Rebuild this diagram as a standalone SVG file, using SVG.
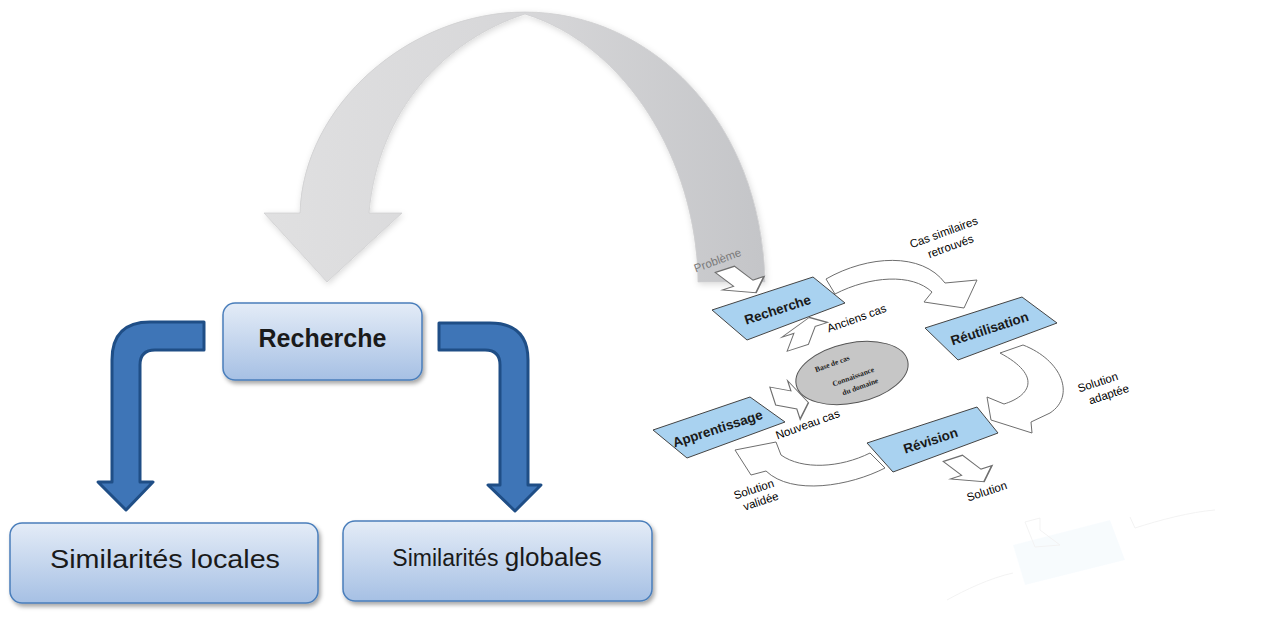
<svg xmlns="http://www.w3.org/2000/svg" width="1274" height="641" viewBox="0 0 1274 641">
<defs>
<linearGradient id="boxg" x1="0" y1="0" x2="0" y2="1">
<stop offset="0" stop-color="#e4ecf7"/>
<stop offset="1" stop-color="#a6c0e4"/>
</linearGradient>
<linearGradient id="arcg" x1="0" y1="0" x2="1" y2="0">
<stop offset="0" stop-color="#e0e0e1"/>
<stop offset="0.55" stop-color="#d6d6d8"/>
<stop offset="1" stop-color="#c4c5c8"/>
</linearGradient>
<filter id="sh" x="-10%" y="-10%" width="130%" height="140%">
<feDropShadow dx="2" dy="3" stdDeviation="2" flood-color="#000" flood-opacity="0.35"/>
</filter>
<filter id="soft" x="-10%" y="-10%" width="130%" height="130%">
<feDropShadow dx="1" dy="2" stdDeviation="3" flood-color="#000" flood-opacity="0.15"/>
</filter>
<path id="darr" d="M-7,-10 L7,-10 L7,3 L15,3 L0,12 L-15,3 L-7,3 Z"/>
</defs>
<style>
.box{fill:url(#boxg);stroke:#4a7ebb;stroke-width:1.5;filter:url(#sh)}
.big{font-family:"Liberation Sans",Arial,sans-serif;fill:#1a1a1a}
.lar{fill:#3e75b7;stroke:#1f4e86;stroke-width:3;stroke-linejoin:round}
.pb{fill:#a9d2f0;stroke:#444;stroke-width:1}
.pt{font-family:"Liberation Sans",Arial,sans-serif;font-weight:bold;font-size:13.5px;fill:#1a1a1a;text-anchor:middle}
.lt{font-family:"Liberation Sans",Arial,sans-serif;font-size:11.5px;fill:#000;text-anchor:middle}
.bt{font-family:"Liberation Serif",serif;font-size:7.5px;font-weight:bold;fill:#222;text-anchor:middle}
.oa{fill:#fff;stroke:#6e6e6e;stroke-width:1;stroke-linejoin:miter}
.sa{fill:#fff;stroke:#6e6e6e;stroke-width:0.8;stroke-linejoin:miter}
.refl{opacity:0.08}
</style>

<!-- big grey curved arrow -->
<g id="arc-arrow" filter="url(#soft)">
<path fill="url(#arcg)" stroke="#cfcfd1" stroke-width="0.8" d="M300,213 C303,105 410,12 525,12 C650,12 762,120 765,282 L698,282 C697,160 625,45 525,14 C445,40 378,110 369,213 L402,213 L327,282 L264,213 Z"/>
</g>

<!-- left side nodes -->
<g id="node-recherche">
<rect class="box" x="223" y="303" width="199" height="77" rx="12"/>
<text class="big" x="322.5" y="347" font-size="25" font-weight="bold" text-anchor="middle">Recherche</text>
</g>
<g id="node-locales">
<rect class="box" x="10" y="523" width="308" height="80" rx="12"/>
<text class="big" x="165" y="568" font-size="26" text-anchor="middle" textLength="230" lengthAdjust="spacingAndGlyphs">Similarités locales</text>
</g>
<g id="node-globales">
<rect class="box" x="343" y="521" width="309" height="80" rx="12"/>
<text class="big" x="497" y="566" text-anchor="middle"><tspan font-size="23">Similarités </tspan><tspan font-size="26">globales</tspan></text>
</g>

<g id="connectors">
<path class="lar" d="M204,322 L150,322 Q112,322 112,360 L112,482 L98,482 L126,510 L153,482 L140,482 L140,365 Q140,350 155,350 L204,350 Z"/>
<path class="lar" d="M439,323 L490,323 Q528,323 528,360 L528,485 L541,485 L515,511 L488,485 L500,485 L500,365 Q500,350 485,350 L439,350 Z"/>
</g>

<!-- right: CBR cycle (tilted picture) -->
<g id="cycle">
<g id="cycle-arrows">
<path class="oa" d="M826,279 C868,255 922,252 945,283 L977,280 L964,308 L924,302 L932,292 C912,273 870,276 835,294 Z"/>
<path class="oa" d="M1000,353 L1023,345 C1062,360 1076,396 1050,413 L1031,422 L1032,433 L991,420 L987,397 L1004,404 C1030,396 1043,376 1000,353 Z"/>
<path class="oa" d="M870,453 L885,468 C850,486 792,496 766,471 L751,475 L735,450 L776,442 L781,455 C802,470 840,468 870,453 Z"/>
<use href="#darr" class="sa" transform="translate(739,280) rotate(-18) scale(1.45) skewX(35)"/>
<use href="#darr" class="sa" transform="translate(803,334) rotate(-18) scale(1.6,-1.15) skewX(30)"/>
<use href="#darr" class="sa" transform="translate(789,399) rotate(-18) rotate(-90) scale(1.35,1.45) skewX(-30)"/>
<use href="#darr" class="sa" transform="translate(967,469) rotate(-18) scale(1.45) skewX(35)"/>
</g>
<g id="cycle-base">
<ellipse cx="852" cy="373" rx="57" ry="30" transform="rotate(-12 852 373)" fill="#c6c6c6" stroke="#555" stroke-width="1"/>
<text class="bt" transform="translate(833,366) rotate(-20)">Base de cas</text>
<text class="bt" transform="translate(854,379) rotate(-20)">Connaissance</text>
<text class="bt" transform="translate(861,389) rotate(-20)">du domaine</text>
</g>
<g id="cycle-recherche">
<polygon class="pb" points="712,310 813,277 845,303 747,340"/>
<text class="pt" transform="translate(779,314) rotate(-18)">Recherche</text>
</g>
<g id="cycle-reutilisation">
<polygon class="pb" points="925,328 1022,297 1057,323 958,360"/>
<text class="pt" transform="translate(991,333) rotate(-18)">Réutilisation</text>
</g>
<g id="cycle-revision">
<polygon class="pb" points="867,443 977,407 998,433 893,472"/>
<text class="pt" transform="translate(932,445) rotate(-18)">Révision</text>
</g>
<g id="cycle-apprentissage">
<polygon class="pb" points="653,430 750,397 785,422 687,458"/>
<text class="pt" transform="translate(719,433) rotate(-18)">Apprentissage</text>
</g>
<g id="cycle-labels">
<text class="lt" style="fill:#7a7a7a" transform="translate(719,264) rotate(-20)">Problème</text>
<text class="lt" transform="translate(945,236) rotate(-20)">Cas similaires</text>
<text class="lt" transform="translate(952,250) rotate(-20)">retrouvés</text>
<text class="lt" transform="translate(858,322) rotate(-20)">Anciens cas</text>
<text class="lt" transform="translate(1099,386) rotate(-18)">Solution</text>
<text class="lt" transform="translate(1110,398) rotate(-18)">adaptée</text>
<text class="lt" transform="translate(809,428) rotate(-20)">Nouveau cas</text>
<text class="lt" transform="translate(988,495) rotate(-18)">Solution</text>
<text class="lt" transform="translate(755,493) rotate(-18)">Solution</text>
<text class="lt" transform="translate(762,505) rotate(-18)">validée</text>
</g>
</g>

<!-- faint reflection -->
<g id="reflection" class="refl">
<polygon points="1013,545 1110,520 1125,560 1025,585" fill="#a9d2f0"/>
<path d="M1025,522 L1040,518 L1040,530 L1060,545 L1035,547 Z" fill="none" stroke="#666"/>
<path d="M1130,517 L1135,528 C1160,520 1190,512 1215,510" fill="none" stroke="#666"/>
<path d="M947,600 C965,590 990,578 1013,573" fill="none" stroke="#666"/>
</g>
</svg>
